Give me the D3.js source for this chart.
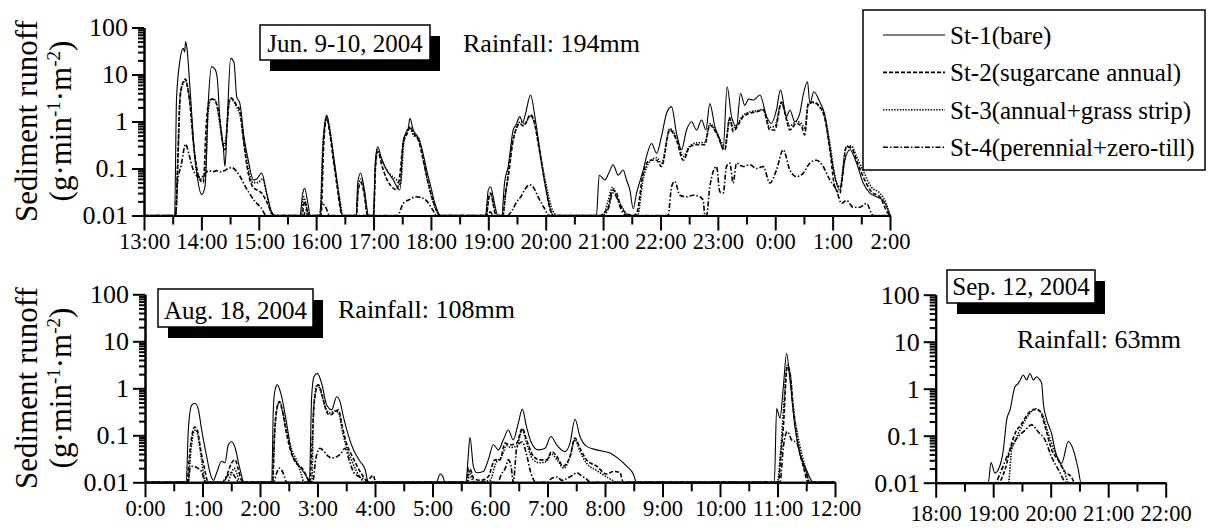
<!DOCTYPE html>
<html lang="en">
<head>
<meta charset="UTF-8">
<title>Sediment runoff</title>
<script src="https://cdnjs.cloudflare.com/ajax/libs/d3/7.8.5/d3.min.js"></script>
<style>
  body { margin: 0; background: #fff; }
  svg { display: block; font-family: "Liberation Serif", "Times New Roman", serif; }
  .axis path, .axis line { stroke: #000; stroke-width: 2px; }
  .axis text { fill: #000; }
  .series { fill: none; stroke: #000; }
</style>
</head>
<body>
<div id="chart"></div>
<script>
// ---- data: [minutes from panel start, sediment runoff g/min/m2] ----
// Jun. 9-10, 2004 (13:00 -> 2:00)
const junSt1 = [[0,0.01],[32,0.01],[34,3],[37.6,20],[41,36],[42.5,30],[43.5,50],[45,35],[48,5.5],[52.3,0.29],[55.7,0.067],[60.3,0.028],[63.8,0.041],[67.2,2.5],[70.7,14.7],[74.2,13],[76.6,8.3],[79.4,1.08],[82.9,0.29],[84.7,0.11],[87.1,1.08],[90.6,22],[94.1,18],[96.9,3.4],[100.3,2.4],[104.5,0.475],[109,0.15],[114.3,0.057],[118,0.06],[123,0.08],[128.2,0.03],[133.4,0.012],[137,0.01],
  [163,0.01],[166,0.03],[168,0.038],[171,0.02],[174,0.01],
  [184,0.01],[187.5,0.4],[191,1.37],[194,0.7],[198,0.2],[201.4,0.06],[204,0.025],[207,0.01],
  [222,0.01],[223.5,0.05],[226.5,0.08],[230,0.04],[235,0.01],
  [240,0.01],[242,0.15],[244.3,0.29],[248.4,0.16],[253.7,0.093],[260,0.06],[267.6,0.035],[271.1,0.4],[274.6,0.6],[276.5,0.75],[278,1.17],[281.5,0.66],[286.8,0.45],[292,0.2],[295.5,0.093],[300,0.04],[304.2,0.018],[310,0.01],
  [357,0.01],[360,0.035],[362.4,0.041],[366,0.02],[370,0.01],
  [374,0.01],[377,0.05],[380.8,0.11],[386,0.66],[389,0.85],[393,1.27],[396,0.95],[399,1.5],[404.2,3.66],[408.7,1.27],[412,0.45],[415.7,0.13],[419,0.05],[422.6,0.021],[428,0.01],
  [473,0.01],[476,0.072],[482,0.057],[486,0.08],[490.6,0.12],[495.8,0.072],[501,0.093],[504.5,0.057],[508,0.035],[511.5,0.014],[515,0.03],[522,0.093],[526,0.2],[530.7,0.34],[536,0.21],[541,0.475],[546.4,1.5],[551.6,2.07],[556.8,0.56],[562,0.25],[567.3,0.66],[572.5,0.99],[577.7,0.66],[583,1.08],[587.5,0.66],[591.6,2.4],[596.9,0.78],[602,0.4],[605.5,0.25],[609.7,5.5],[614.3,1.27],[619.5,0.78],[623.7,4.0],[628.2,2.2],[632,3.0],[637,2.86],[644,3.65],[651,1.27],[656,0.91],[661.3,1.76],[665.5,4.7],[671.8,1.27],[675.3,1.76],[680.5,0.99],[685.7,1.5],[689.2,3.65],[693.8,7.0],[696.2,2.4],[700.4,4.3],[706.6,2.6],[711.8,1.4],[717,0.29],[722.3,0.067],[727.5,0.035],[732.8,0.15],[738,0.25],[745,0.13],[752,0.049],[759,0.03],[766,0.025],[772.8,0.021],[780,0.01]];
const junSt2 = [[0,0.01],[33,0.01],[35,0.1],[37.6,3],[41,7],[43.5,8],[45,6],[48,2.5],[52,0.3],[55.7,0.09],[58,0.06],[62,0.05],[65,0.8],[68,2.7],[71,3.0],[74,2.8],[77,2.0],[80,0.8],[83,0.3],[85,0.25],[87,0.9],[89,2.8],[91,3.2],[94,2.8],[97,2.2],[100,1.8],[104,0.4],[109,0.08],[114,0.04],[118,0.035],[123,0.03],[128,0.02],[133,0.012],[136,0.01],
  [165,0.01],[168,0.02],[171,0.012],[173,0.01],
  [185,0.01],[188,0.35],[191,1.2],[194,0.6],[198,0.15],[202,0.04],[205,0.015],[207,0.01],
  [222,0.01],[224,0.035],[227,0.05],[230,0.03],[234,0.01],
  [240,0.01],[242,0.1],[244.3,0.23],[249,0.11],[253.7,0.06],[258.9,0.041],[264.1,0.035],[267,0.06],[271.1,0.35],[276,0.6],[278,0.78],[282,0.55],[286.8,0.4],[292,0.15],[295.5,0.07],[299,0.035],[306,0.013],[309,0.01],
  [358,0.01],[360,0.02],[362.5,0.03],[365,0.018],[368,0.01],
  [375,0.01],[378,0.03],[381,0.07],[386,0.4],[393,0.9],[397,0.8],[404,1.4],[408,1.0],[412,0.35],[416,0.12],[420,0.04],[424,0.015],[428,0.01],
  [478,0.01],[480.1,0.011],[485.4,0.015],[490,0.035],[494.1,0.03],[497.6,0.018],[504.5,0.011],[511.5,0.01],[515,0.011],[521.9,0.079],[528.9,0.15],[535.9,0.15],[541.1,0.11],[549.8,0.66],[556.8,0.4],[563.8,0.15],[570.7,0.29],[577.7,0.32],[586.4,0.32],[591.6,0.84],[598.6,0.56],[607.3,0.25],[612.5,1.17],[616,0.61],[621.2,0.84],[626.5,1.27],[633.4,1.5],[640.4,1.6],[647.4,1.76],[654.4,0.66],[659.6,0.66],[666.6,2.6],[671.8,1.08],[675.3,0.66],[682.2,0.91],[687.5,0.78],[690.9,0.52],[694.4,2.4],[699.6,2.6],[706.6,2.07],[711.8,1.17],[717.1,0.25],[722.3,0.041],[727.5,0.03],[734.5,0.29],[739.7,0.27],[745,0.15],[751.9,0.067],[760.6,0.032],[769.3,0.025],[778,0.011],[780,0.01]];
const junSt3 = [[0,0.01],[33,0.01],[36,0.3],[38,4],[41,6.5],[43.5,7.5],[46,5],[49,1.5],[52,0.3],[56,0.07],[60,0.06],[64,0.07],[67,1.5],[70,3.0],[74,2.9],[77,1.8],[80,0.7],[83,0.3],[86,0.5],[89,2.5],[91,3.0],[94,2.6],[97,2.0],[101,1.2],[105,0.3],[109,0.1],[114,0.05],[119,0.05],[124,0.06],[129,0.025],[134,0.01],
  [164,0.01],[167,0.025],[170,0.015],[173,0.01],
  [184,0.01],[187,0.3],[191,1.25],[194.5,0.65],[198,0.18],[202,0.05],[205,0.02],[208,0.01],
  [222,0.01],[224,0.04],[226.5,0.06],[230,0.035],[234,0.01],
  [240,0.01],[242,0.12],[244.3,0.25],[249,0.15],[253.7,0.093],[258.9,0.07],[264.1,0.057],[268,0.045],[272,0.4],[278,0.75],[282,0.5],[287,0.45],[293,0.12],[298,0.04],[304,0.015],[310,0.01],
  [358,0.01],[360.5,0.025],[363,0.028],[366,0.015],[369,0.01],
  [375,0.01],[379,0.04],[383,0.2],[388,0.6],[394,1.0],[398,0.9],[404,1.3],[409,0.8],[413,0.3],[417,0.1],[421,0.04],[426,0.015],[432,0.01],
  [480,0.01],[485,0.02],[490,0.04],[494,0.025],[500,0.015],[506,0.01],[516,0.01],[521.9,0.06],[528.9,0.14],[535.9,0.17],[541.1,0.13],[549.8,0.7],[556.8,0.45],[563.8,0.18],[570.7,0.3],[577.7,0.35],[586.4,0.36],[591.6,0.9],[598.6,0.6],[607.3,0.3],[612.5,1.2],[616,0.7],[621.2,0.95],[626.5,1.35],[633.4,1.6],[640.4,1.7],[647.4,1.8],[654.4,0.75],[659.6,0.8],[666.6,2.5],[671.8,1.2],[675.3,0.8],[682.2,1.0],[687.5,0.9],[691,0.7],[694.4,2.2],[699.6,2.5],[706.6,2.0],[711.8,1.3],[717.1,0.35],[722.3,0.07],[727.5,0.04],[734.5,0.3],[739.7,0.3],[745,0.18],[751.9,0.09],[760.6,0.04],[769.3,0.03],[776,0.018],[780,0.01]];
const junSt4 = [[0,0.01],[33,0.01],[35,0.05],[39,0.12],[43.5,0.33],[47,0.2],[51,0.1],[55,0.07],[60,0.065],[64,0.08],[68,0.09],[72,0.085],[76,0.09],[80,0.085],[84,0.09],[88,0.1],[92,0.105],[96,0.09],[100,0.07],[105,0.045],[110,0.03],[116,0.02],[122,0.015],[128,0.01],
  [167,0.01],[169,0.013],[171,0.01],
  [183,0.01],[186,0.018],[190,0.015],[194,0.01],
  [265,0.01],[271,0.018],[278,0.022],[284,0.025],[290,0.024],[296,0.02],[302,0.013],[306,0.01],
  [359,0.01],[362,0.012],[365,0.01],
  [380,0.01],[385,0.013],[390,0.02],[394,0.025],[398,0.035],[403,0.045],[407,0.04],[412,0.025],[418,0.015],[424,0.01],
  [480,0.01],[486,0.015],[490,0.03],[494,0.025],[500,0.012],[505,0.01],[548,0.01],[551.6,0.041],[555,0.053],[560.3,0.027],[567.2,0.025],[574.2,0.027],[581.2,0.025],[584.7,0.021],[586.4,0.01],[588.2,0.01],[591.6,0.041],[598.6,0.11],[602.1,0.032],[605.6,0.03],[609,0.11],[612.5,0.13],[616,0.049],[619.5,0.13],[626.5,0.11],[633.4,0.12],[640.4,0.1],[647.4,0.11],[654.4,0.049],[661.3,0.093],[668.3,0.25],[675.3,0.093],[682.2,0.067],[689.2,0.079],[696.2,0.13],[703.1,0.15],[710.1,0.11],[717.1,0.057],[724,0.035],[729.3,0.018],[734.5,0.021],[741.5,0.015],[748.4,0.015],[755.4,0.018],[762.4,0.01],[780,0.01]];

// Aug. 18, 2004 (0:00 -> 12:00)
const augSt1 = [[0,0.01],[43,0.01],[45.2,0.13],[48.7,0.44],[52.2,0.48],[55.7,0.35],[59.1,0.13],[64.3,0.036],[67.8,0.016],[71.3,0.011],[74.8,0.016],[80,0.028],[83.5,0.026],[86.9,0.063],[90.4,0.074],[93.9,0.055],[99.1,0.019],[103.3,0.01],
  [132.2,0.01],[134,0.4],[135.7,0.92],[138.1,1.18],[142.6,0.66],[147.8,0.18],[153,0.042],[158.3,0.026],[163.5,0.019],[168.7,0.013],[171.5,0.01],[173.9,0.66],[176.3,1.77],[179.8,2.08],[184.3,1.28],[189.6,0.44],[194.8,0.35],[200,0.66],[203.5,0.52],[207,0.25],[212.2,0.1],[217.4,0.05],[224.3,0.028],[229.6,0.019],[233,0.01],
  [304,0.01],[308,0.015],[311,0.013],[313,0.01],
  [334.9,0.01],[337,0.03],[339.1,0.091],[342.6,0.022],[346.1,0.016],[353,0.017],[358.2,0.03],[363.5,0.063],[368.7,0.049],[373.9,0.08],[379.1,0.13],[384.3,0.08],[389.5,0.18],[393.7,0.36],[398.2,0.15],[403.4,0.068],[410.4,0.049],[417.4,0.053],[423.6,0.094],[429.5,0.063],[438.2,0.045],[443.5,0.068],[448.7,0.22],[453.9,0.094],[460.8,0.058],[471.3,0.049],[485.2,0.042],[495.6,0.03],[502.6,0.022],[509.5,0.015],[513,0.01],
  [656.7,0.01],[659.1,0.37],[662.6,0.23],[666.1,1.08],[669.5,5.5],[673,1.5],[678.2,0.15],[683.4,0.041],[690.4,0.018],[697.3,0.01],[720,0.01]];
const augSt2 = [[0,0.01],[44,0.01],[46,0.03],[49,0.1],[52,0.15],[55,0.12],[58,0.05],[62,0.02],[66,0.01],
  [82,0.01],[86,0.015],[90,0.025],[94,0.03],[97,0.02],[100,0.012],[103,0.01],
  [133,0.01],[135,0.1],[138,0.4],[140.2,0.52],[143,0.35],[148,0.1],[153,0.04],[158,0.025],[164,0.02],[169,0.013],[172,0.01],[174,0.05],[177,0.6],[180.9,1.18],[185,0.7],[190,0.3],[193,0.27],[197,0.3],[201.7,0.35],[206,0.15],[210,0.07],[215,0.04],[220,0.025],[226,0.015],[232,0.011],[238,0.014],[241,0.01],
  [336,0.01],[337.4,0.02],[340,0.018],[343,0.012],[350,0.011],[358,0.013],[365.2,0.03],[370.4,0.03],[375.6,0.068],[380.8,0.063],[387.8,0.068],[393.7,0.14],[398.2,0.08],[405.2,0.036],[412.1,0.03],[419.1,0.03],[424.3,0.045],[429.5,0.036],[436.5,0.022],[443.5,0.036],[448.7,0.087],[453.9,0.053],[460.8,0.03],[471.3,0.022],[481.7,0.015],[488.7,0.017],[495.6,0.016],[499.1,0.01],
  [660.8,0.01],[664,0.05],[666.1,0.15],[670.2,2.9],[673,2.08],[676.5,0.36],[681.7,0.06],[686.9,0.022],[692.1,0.01],[720,0.01]];
const augSt3 = [[0,0.01],[45,0.01],[48,0.05],[51,0.12],[53,0.13],[56,0.08],[59,0.03],[62,0.012],[64,0.01],
  [86,0.01],[90,0.015],[93,0.02],[96,0.015],[99,0.01],
  [133,0.01],[135.5,0.12],[138.5,0.45],[141,0.5],[144,0.3],[148,0.12],[153,0.05],[158,0.03],[163,0.015],[166,0.01],
  [174,0.01],[176,0.4],[179.8,1.2],[183,0.9],[188,0.4],[193,0.3],[198,0.33],[202,0.3],[206,0.12],[211,0.05],[217,0.025],[224,0.013],[229,0.01],
  [337,0.01],[338.5,0.018],[341,0.012],[345,0.01],[360,0.011],[366,0.025],[372,0.035],[377.4,0.06],[382,0.055],[388,0.06],[393.7,0.13],[398,0.07],[405,0.03],[412,0.026],[419,0.028],[424,0.04],[430,0.03],[437,0.02],[443.5,0.035],[448.7,0.08],[454,0.045],[461,0.025],[471,0.018],[481.7,0.013],[488,0.011],[492,0.01],
  [659.8,0.01],[663,0.04],[666,0.3],[670.2,3.1],[673,2.2],[676.5,0.4],[682,0.08],[688,0.025],[693.9,0.01],[720,0.01]];
const augSt4 = [[0,0.01],[45,0.01],[47,0.02],[50,0.022],[55,0.02],[59,0.017],[63,0.01],
  [80,0.01],[85,0.013],[90,0.016],[94,0.013],[98,0.01],
  [134,0.01],[137,0.015],[140.2,0.02],[144,0.016],[148,0.01],
  [175,0.01],[178,0.03],[182.6,0.053],[187,0.045],[191,0.036],[195,0.033],[200,0.035],[204,0.04],[208.7,0.053],[213,0.03],[218,0.016],[224,0.013],[230,0.011],[233,0.01],
  [368,0.01],[372,0.015],[376,0.02],[379.1,0.03],[382,0.022],[384.3,0.01],[388,0.055],[393.7,0.073],[398,0.04],[403,0.015],[408,0.01],[420,0.01],[424,0.012],[430,0.013],[435,0.011],[440,0.012],[446,0.014],[450.4,0.016],[455,0.014],[460,0.012],[465,0.01],
  [662.6,0.01],[666.1,0.057],[670.2,0.12],[674.7,0.08],[680,0.07],[685.2,0.03],[690.4,0.015],[693.9,0.01],[720,0.01]];

// Sep. 12, 2004 (18:00 -> 22:00)
const sepSt1 = [[0,0.01],[54.9,0.01],[57.7,0.027],[61.9,0.016],[65.4,0.019],[70.6,0.05],[74.1,0.22],[77.5,0.35],[82.7,1.1],[86.2,1.3],[88,1.5],[91.4,1.95],[94.9,1.53],[98.4,2.1],[101.9,1.53],[105.4,1.8],[108.8,1.53],[110.6,1.3],[112.3,0.49],[115.8,0.22],[121,0.11],[124.5,0.05],[131.4,0.026],[138.4,0.075],[143.6,0.05],[148.8,0.019],[151.6,0.01],[240,0.01]];
const sepSt2 = [[0,0.01],[65.4,0.01],[72.3,0.019],[79.3,0.069],[82.7,0.11],[89.7,0.18],[96.7,0.3],[103.6,0.36],[108.8,0.33],[114.1,0.156],[121,0.05],[128,0.03],[134.9,0.017],[141.9,0.013],[145,0.01],[240,0.01]];
const sepSt3 = [[0,0.01],[75.8,0.01],[79.3,0.05],[82.7,0.075],[89.7,0.156],[98.4,0.3],[103.6,0.38],[110.6,0.3],[117.5,0.11],[124.5,0.043],[134.9,0.016],[138.4,0.01],[240,0.01]];
const sepSt4 = [[0,0.01],[61.9,0.01],[68.8,0.019],[77.5,0.05],[86.2,0.096],[93.2,0.13],[100.1,0.17],[107.1,0.12],[114.1,0.081],[121,0.035],[128,0.019],[136.7,0.01],[240,0.01]];

const seriesNames = ["St-1(bare)", "St-2(sugarcane annual)", "St-3(annual+grass strip)", "St-4(perennial+zero-till)"];
const yMajor = [0.01, 0.1, 1, 10, 100];
const yLabels = ["0.01", "0.1", "1", "10", "100"];

// ---- layout / styles ----
const W = 1214, H = 530;
const FONT = "'Liberation Serif', 'Times New Roman', serif";
const styles = [
  { width: 1.1, dash: null },
  { width: 1.6, dash: "4,2" },
  { width: 1.6, dash: "1.4,1.4" },
  { width: 1.6, dash: "5,2,1.5,2" }
];

const panels = [
  { start: 13, hours: 13, x0: 144, x1: 890, yB: 215.5, yT: 27.5, labelY: 33, series: [junSt1, junSt2, junSt3, junSt4], yTitle: 121 },
  { start: 0, hours: 12, x0: 145, x1: 835, yB: 482.3, yT: 294.3, labelY: 34, series: [augSt1, augSt2, augSt3, augSt4], yTitle: 388 },
  { start: 18, hours: 4, x0: 935.7, x1: 1165.7, yB: 482.7, yT: 294.7, labelY: 38, series: [sepSt1, sepSt2, sepSt3, sepSt4], yTitle: null }
];

const boxes = [
  { text: "Jun. 9-10, 2004", x: 260, y: 25, w: 170, h: 35, rain: "Rainfall: 194mm", rx: 463, ry: 52 },
  { text: "Aug. 18, 2004", x: 158, y: 289, w: 155, h: 38, rain: "Rainfall: 108mm", rx: 338, ry: 318 },
  { text: "Sep. 12, 2004", x: 947, y: 270, w: 148, h: 33, rain: "Rainfall: 63mm", rx: 1017, ry: 348 }
];

const svg = d3.select("#chart").append("svg")
  .attr("width", W).attr("height", H);

const yMinor = [];
[0.01, 0.1, 1, 10].forEach(d => d3.range(2, 10).forEach(k => yMinor.push(d * k)));

function drawPanel(p) {
  const x = d3.scaleLinear().domain([0, p.hours * 60]).range([p.x0, p.x1]);
  const y = d3.scaleLog().domain([0.01, 100]).range([p.yB, p.yT]);
  const g = svg.append("g");

  const line = d3.line()
    .x(d => x(d[0]))
    .y(d => y(Math.max(d[1], 0.01)))
    .curve(d3.curveMonotoneX);

  p.series.forEach((s, i) => {
    g.append("path")
      .datum(s)
      .attr("class", "series")
      .attr("d", line)
      .attr("stroke-width", styles[i].width)
      .attr("stroke-dasharray", styles[i].dash);
  });

  // x axis: half-hour minor ticks, hour major ticks
  g.append("g").attr("class", "axis")
    .attr("transform", `translate(0,${p.yB})`)
    .call(d3.axisBottom(x).tickValues(d3.range(30, p.hours * 60, 60)).tickSize(9).tickSizeOuter(0).tickFormat(""));
  const xa = g.append("g").attr("class", "axis")
    .attr("transform", `translate(0,${p.yB})`)
    .call(d3.axisBottom(x).tickValues(d3.range(0, p.hours * 60 + 1, 60)).tickSize(15).tickSizeOuter(0)
      .tickFormat(m => ((p.start + m / 60) % 24) + ":00"));
  xa.attr("font-family", FONT).attr("font-size", 22.5);
  xa.selectAll("text").attr("y", p.labelY).attr("dy", null);

  // y axis: log scale
  g.append("g").attr("class", "axis")
    .attr("transform", `translate(${p.x0},0)`)
    .call(d3.axisLeft(y).tickValues(yMinor).tickSize(6).tickSizeOuter(0).tickFormat(""));
  const ya = g.append("g").attr("class", "axis")
    .attr("transform", `translate(${p.x0},0)`)
    .call(d3.axisLeft(y).tickValues(yMajor).tickSize(12).tickSizeOuter(0).tickPadding(4)
      .tickFormat((d, i) => yLabels[i]));
  ya.attr("font-family", FONT).attr("font-size", 26);

  if (p.yTitle != null) {
    svg.append("text")
      .attr("transform", `translate(37,${p.yTitle}) rotate(-90)`)
      .attr("text-anchor", "middle")
      .attr("font-size", 31)
      .text("Sediment runoff");
    const t2 = svg.append("text")
      .attr("transform", `translate(71,${p.yTitle}) rotate(-90)`)
      .attr("text-anchor", "middle")
      .attr("font-size", 31);
    t2.append("tspan").text("(g\u00b7min");
    t2.append("tspan").attr("dy", -11).attr("font-size", 19).text("-1");
    t2.append("tspan").attr("dy", 11).text("\u00b7m");
    t2.append("tspan").attr("dy", -11).attr("font-size", 19).text("-2");
    t2.append("tspan").attr("dy", 11).text(")");
  }
}

panels.forEach(drawPanel);

// date boxes with drop shadow, and rainfall notes
boxes.forEach(b => {
  svg.append("rect").attr("x", b.x + 10).attr("y", b.y + 11).attr("width", b.w).attr("height", b.h).attr("fill", "#000");
  svg.append("rect").attr("x", b.x).attr("y", b.y).attr("width", b.w).attr("height", b.h)
    .attr("fill", "#fff").attr("stroke", "#000").attr("stroke-width", 1.5);
  svg.append("text").attr("x", b.x + b.w / 2).attr("y", b.y + b.h - 8)
    .attr("text-anchor", "middle").attr("font-size", 25).text(b.text);
  svg.append("text").attr("x", b.rx).attr("y", b.ry).attr("font-size", 26).text(b.rain);
});

// legend
const lg = svg.append("g");
lg.append("rect").attr("x", 863).attr("y", 10).attr("width", 342).attr("height", 160)
  .attr("fill", "#fff").attr("stroke", "#000").attr("stroke-width", 1.5);
seriesNames.forEach((name, i) => {
  const ry = 35 + i * 37.4;
  lg.append("line").attr("x1", 883).attr("x2", 945).attr("y1", ry).attr("y2", ry)
    .attr("stroke", "#000").attr("stroke-width", styles[i].width)
    .attr("stroke-dasharray", styles[i].dash);
  lg.append("text").attr("x", 950).attr("y", ry + 9).attr("font-size", 25).text(name);
});
</script>
</body>
</html>
